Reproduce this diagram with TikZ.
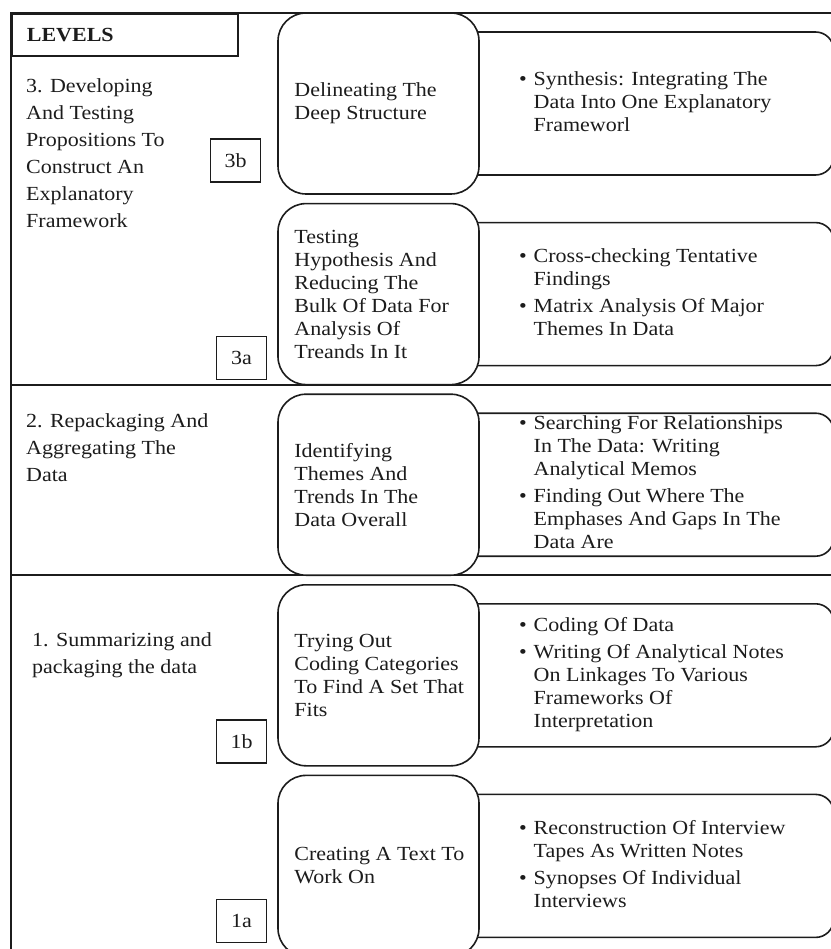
\documentclass[tikz,border=0pt]{standalone}
\usepackage{fontspec}
\setmainfont{Liberation Serif}[FakeStretch=1.1]
\usepackage{tikz}
\usetikzlibrary{positioning, backgrounds}
\definecolor{ink}{HTML}{1C1C1C}

\begin{document}
\begin{tikzpicture}[
    x=1pt, y=-1pt,
    every node/.style={text=ink},
    frame/.style={draw=ink, line width=1.7pt},
    sep/.style={draw=ink, line width=2.6pt},
    stage/.style={draw=ink, line width=1.6pt, fill=white, rounded corners=28pt,
                  minimum width=201pt, minimum height=181pt},
    outcome/.style={draw=ink, line width=1.6pt, rounded corners=18pt,
                    minimum width=392pt, minimum height=143pt},
    tag/.style={draw=ink, line width=1.3pt, minimum width=50pt, minimum height=43pt,
                inner sep=0pt, font=\fontsize{20}{23}\selectfont},
    lvl/.style={inner sep=0pt, align=left, font=\fontsize{20}{27}\selectfont},
    txt/.style={inner sep=0pt, align=left, font=\fontsize{20}{23}\selectfont},
    pts/.style={inner sep=0pt, font=\fontsize{20}{23}\selectfont},
]
    \useasboundingbox (0,0) rectangle (830,949);
    \draw[frame] (835,13) -- (11,13) -- (11,952);
    \draw[sep] (11,385) -- (835,385);
    \draw[sep] (11,575) -- (835,575);
    \node[frame, anchor=north west, minimum width=226pt, minimum height=42pt,
          text width=196pt, inner xsep=15pt, align=left,
          font=\bfseries\fontsize{20}{23}\selectfont] (levels) at (11,13) {LEVELS};
    \node[lvl, anchor=north west] (lvl3) at (26,78.3)
         {3. Developing\\And Testing\\Propositions To\\Construct An\\Explanatory\\Framework};
    \node[lvl, anchor=north west] (lvl2) at (26,413.3)
         {2. Repackaging And\\Aggregating The\\Data};
    \node[lvl, anchor=north west] (lvl1) at (32,632.3)
         {1. Summarizing and\\packaging the data};
    \node[stage] (mid3b) at (378.5,103.5) {};
    \node[stage, below=8pt of mid3b] (mid3a) {};
    \node[stage, below=8pt of mid3a] (mid2) {};
    \node[stage, below=8pt of mid2] (mid1b) {};
    \node[stage, below=8pt of mid1b] (mid1a) {};
    \begin{pgfonlayer}{background}
        \node[outcome, right=-39pt of mid3b] (out3b) {};
        \node[outcome, right=-39pt of mid3a] (out3a) {};
        \node[outcome, right=-39pt of mid2] (out2) {};
        \node[outcome, right=-39pt of mid1b] (out1b) {};
        \node[outcome, right=-39pt of mid1a] (out1a) {};
    \end{pgfonlayer}
    \node[txt, right=17pt of mid3b.west] (mid3b-t) {Delineating The\\Deep Structure};
    \node[txt, right=17pt of mid3a.west] (mid3a-t)
         {Testing\\Hypothesis And\\Reducing The\\Bulk Of Data For\\Analysis Of\\Treands In It};
    \node[txt, right=17pt of mid2.west] (mid2-t)
         {Identifying\\Themes And\\Trends In The\\Data Overall};
    \node[txt, right=17pt of mid1b.west] (mid1b-t)
         {Trying Out\\Coding Categories\\To Find A Set That\\Fits};
    \node[txt, right=17pt of mid1a.west] (mid1a-t) {Creating A Text To\\Work On};
    \node[pts, right=39pt of mid3b.east] (out3b-t) {\begin{tabular}{@{}l@{\hspace{7pt}}l@{}}
        \textbullet & Synthesis: Integrating The\\ & Data Into One Explanatory\\ & Frameworl
    \end{tabular}};
    \node[pts, right=39pt of mid3a.east] (out3a-t) {\begin{tabular}{@{}l@{\hspace{7pt}}l@{}}
        \textbullet & Cross-checking Tentative\\ & Findings\\[4pt]
        \textbullet & Matrix Analysis Of Major\\ & Themes In Data
    \end{tabular}};
    \node[pts, right=39pt of mid2.east] (out2-t) {\begin{tabular}{@{}l@{\hspace{7pt}}l@{}}
        \textbullet & Searching For Relationships\\ & In The Data: Writing\\ & Analytical Memos\\[4pt]
        \textbullet & Finding Out Where The\\ & Emphases And Gaps In The\\ & Data Are
    \end{tabular}};
    \node[pts, right=39pt of mid1b.east] (out1b-t) {\begin{tabular}{@{}l@{\hspace{7pt}}l@{}}
        \textbullet & Coding Of Data\\[4pt]
        \textbullet & Writing Of Analytical Notes\\ & On Linkages To Various\\ & Frameworks Of\\ & Interpretation
    \end{tabular}};
    \node[pts, right=39pt of mid1a.east] (out1a-t) {\begin{tabular}{@{}l@{\hspace{7pt}}l@{}}
        \textbullet & Reconstruction Of Interview\\ & Tapes As Written Notes\\[4pt]
        \textbullet & Synopses Of Individual\\ & Interviews
    \end{tabular}};
    \node[tag, above left=12pt and 16pt of mid3b.south west] (tag3b) {3b};
    \node[tag, above left=5pt and 10pt of mid3a.south west] (tag3a) {3a};
    \node[tag, above left=3pt and 10pt of mid1b.south west] (tag1b) {1b};
    \node[tag, above left=14pt and 10pt of mid1a.south west] (tag1a) {1a};
\end{tikzpicture}
\end{document}
